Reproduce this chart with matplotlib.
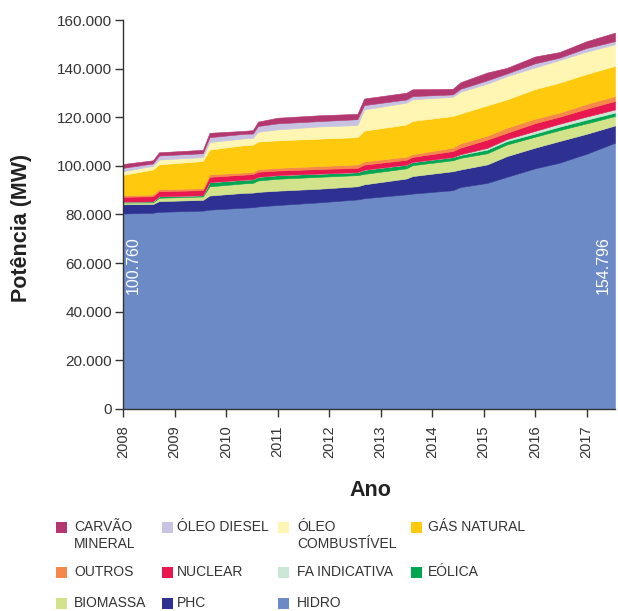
import matplotlib
matplotlib.use("Agg")
import matplotlib.pyplot as plt
from matplotlib.patches import Rectangle
from matplotlib.ticker import FuncFormatter, FixedLocator

plt.rcParams['font.family'] = ['Liberation Sans', 'DejaVu Sans']

# time (decimal years)
t = [2008.00, 2008.58, 2008.70, 2009.55, 2009.68, 2010.35, 2010.52, 2010.62,
     2011.00, 2011.80, 2012.55, 2012.68, 2013.50, 2013.62, 2014.40, 2014.55,
     2015.07, 2015.45, 2016.00, 2016.47, 2017.00, 2017.55]

# installed capacity per source, thousand MW
hidro   = [80.4, 80.7, 81.1, 81.6, 82.0, 82.8, 83.0, 83.3, 83.9, 85.0, 86.2, 86.7, 88.3, 88.6, 90.0, 91.3, 93.0, 95.5, 99.0, 101.3, 105.0, 109.5]
phc     = [3.8, 3.6, 4.4, 4.4, 5.8, 6.1, 6.0, 6.0, 5.9, 5.6, 5.4, 5.7, 6.5, 7.2, 7.8, 7.2, 7.6, 8.5, 8.5, 8.9, 8.2, 7.1]
biomassa = [0.7, 0.7, 1.4, 1.4, 3.8, 3.9, 4.0, 4.7, 4.9, 4.9, 4.6, 4.3, 4.2, 4.5, 4.5, 4.8, 4.6, 4.8, 4.5, 4.5, 4.3, 3.9]
eolica  = [0.4, 0.4, 0.6, 0.5, 1.7, 1.5, 1.5, 1.5, 1.5, 1.3, 1.2, 1.7, 1.5, 1.3, 1.3, 1.2, 1.5, 1.4, 1.3, 1.4, 1.5, 1.4]
fa_indicativa = [0.0, 0.0, 0.0, 0.0, 0.0, 0.0, 0.0, 0.0, 0.0, 0.0, 0.0, 0.0, 0.0, 0.0, 0.0, 0.3, 0.7, 0.8, 1.1, 1.2, 1.3, 1.3]
nuclear = [2.0, 2.1, 2.1, 2.1, 2.2, 2.1, 2.1, 2.1, 1.9, 1.9, 1.8, 2.1, 2.0, 2.1, 2.5, 2.7, 3.4, 2.6, 3.2, 2.9, 3.2, 3.5]
outros  = [0.6, 0.7, 0.8, 0.8, 1.0, 0.9, 0.9, 1.0, 1.1, 1.2, 1.4, 1.3, 1.3, 1.1, 1.4, 1.8, 1.6, 2.1, 1.8, 1.7, 2.0, 2.0]
gas_natural = [8.4, 10.3, 10.2, 11.2, 10.2, 11.2, 11.2, 11.4, 11.3, 11.3, 11.2, 12.7, 13.2, 13.7, 13.0, 12.2, 12.5, 11.6, 12.2, 12.3, 12.3, 12.4]
oleo_combustivel = [1.5, 1.5, 2.0, 1.6, 3.1, 2.8, 2.8, 4.0, 4.5, 5.0, 5.0, 8.7, 9.0, 8.9, 7.9, 9.0, 8.9, 9.6, 8.9, 9.3, 9.2, 8.9]
oleo_diesel = [1.4, 1.0, 1.7, 1.6, 2.0, 1.9, 1.8, 2.4, 2.5, 2.2, 2.4, 1.8, 1.3, 1.3, 1.0, 1.2, 1.4, 1.1, 1.7, 1.0, 1.5, 1.3]
carvao  = [1.56, 1.3, 1.3, 1.4, 1.8, 1.2, 1.4, 1.8, 2.3, 2.4, 2.2, 2.7, 2.8, 2.8, 2.3, 2.7, 3.2, 2.3, 2.8, 2.3, 2.8, 3.5]

stack_order = [hidro, phc, biomassa, eolica, fa_indicativa, nuclear, outros,
               gas_natural, oleo_combustivel, oleo_diesel, carvao]
stack_colors = ['#6B8AC6', '#2E3192', '#D2E38C', '#00A651', '#CBE8D6', '#E8174F',
                '#F6894A', '#FFC90E', '#FFF6B3', '#C8C3E2', '#B3386F']

years = [2008, 2009, 2010, 2011, 2012, 2013, 2014, 2015, 2016, 2017]
total_labels = ['100.760', '154.796']

legend_labels = [
    ['CARVÃO\nMINERAL', 'ÓLEO DIESEL', 'ÓLEO\nCOMBUSTÍVEL', 'GÁS NATURAL'],
    ['OUTROS', 'NUCLEAR', 'FA INDICATIVA', 'EÓLICA'],
    ['BIOMASSA', 'PHC', 'HIDRO'],
]
legend_colors = [
    ['#B3386F', '#C8C3E2', '#FFF6B3', '#FFC90E'],
    ['#F6894A', '#E8174F', '#CBE8D6', '#00A651'],
    ['#D2E38C', '#2E3192', '#6B8AC6'],
]

W, H = 618, 611
fig = plt.figure(figsize=(W / 100, H / 100), dpi=100)
ax = fig.add_axes([123 / W, 1 - 409 / H, (615 - 123) / W, (409 - 20) / H])

ax.stackplot(t, *[[v * 1000 for v in s] for s in stack_order],
             colors=stack_colors, linewidth=0.4)
for coll, c in zip(ax.collections, stack_colors):
    coll.set_edgecolor(c)

ax.set_xlim(t[0], t[-1])
ax.set_ylim(0, 160000)
ax.yaxis.set_major_locator(FixedLocator(range(0, 160001, 20000)))
ax.yaxis.set_major_formatter(FuncFormatter(lambda v, p: f"{int(v):,}".replace(',', '.')))
ax.set_xticks(years)
ax.set_xticklabels([str(y) for y in years], rotation=90)

for s in ['top', 'right']:
    ax.spines[s].set_visible(False)
for s in ['left', 'bottom']:
    ax.spines[s].set_color('#333333')
    ax.spines[s].set_linewidth(1.0)
ax.tick_params(axis='both', colors='#333333', length=6, width=1.0, direction='out')
ax.tick_params(axis='y', labelsize=11, pad=2)
ax.tick_params(axis='x', labelsize=10.5, pad=6)

ax.text(2008.2, 59000, total_labels[0], rotation=90, color='white', fontsize=11.5,
        ha='center', va='center')
ax.text(t[-1] - 0.22, 59000, total_labels[1], rotation=90, color='white', fontsize=11.5,
        ha='center', va='center')

fig.text(22 / W, 1 - 228 / H, 'Potência (MW)', rotation=90, fontsize=15.5,
         fontweight='bold', ha='center', va='center', color='#222222')
fig.text(370 / W, 1 - 490 / H, 'Ano', fontsize=15.5, fontweight='bold',
         ha='center', va='center', color='#222222')

# legend drawn manually
col_marker_x = [56, 162, 278, 411]
col_text_x = [74, 177, 297, 428]
row_y = [527, 572, 603]
sq = 11
for r, (labels, cols) in enumerate(zip(legend_labels, legend_colors)):
    for c, (lab, colr) in enumerate(zip(labels, cols)):
        x0 = col_marker_x[c]
        y0 = row_y[r]
        fig.patches.append(Rectangle((x0 / W, 1 - (y0 + sq / 2) / H), sq / W, sq / H,
                                     transform=fig.transFigure, facecolor=colr,
                                     edgecolor='none'))
        fig.text(col_text_x[c] / W, 1 - (y0 - 7) / H, lab, fontsize=10,
                 ha='left', va='top', color='#333333', linespacing=1.3)

fig.savefig('out.png', dpi=100)
